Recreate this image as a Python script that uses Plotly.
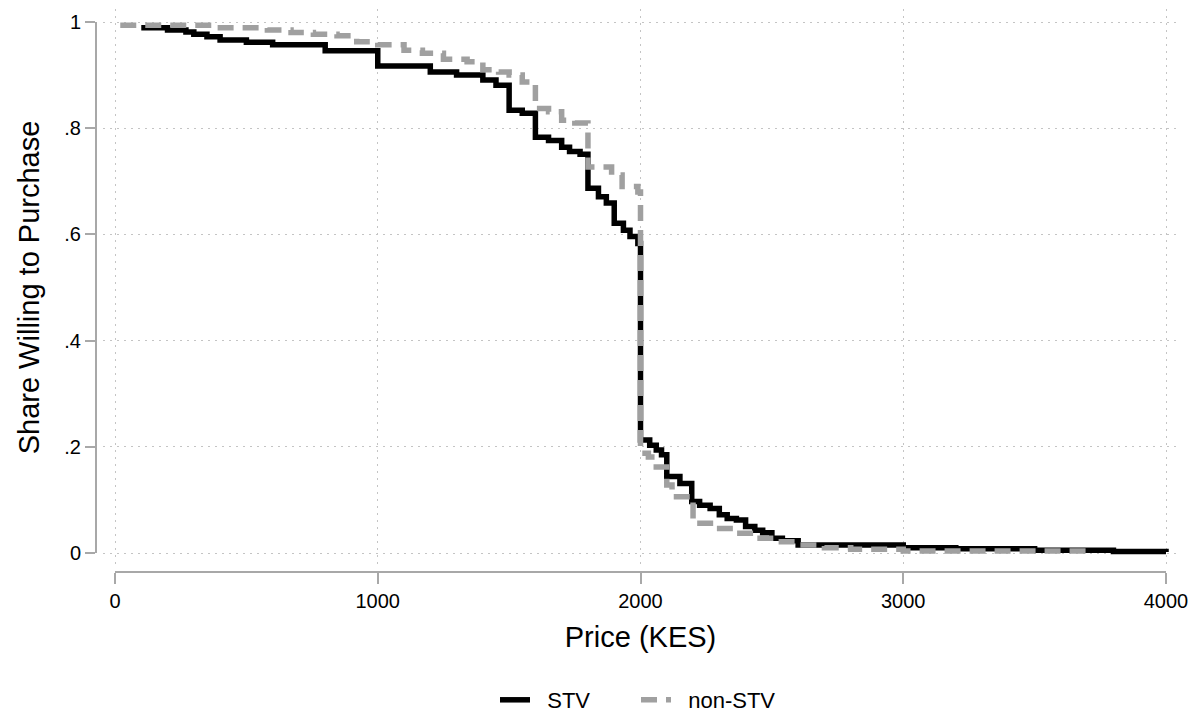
import plotly.graph_objects as go

# Share of respondents willing to purchase at each price (KES), step curves
stv_price = [100, 200, 270, 300, 350, 400, 500, 600, 800, 1000, 1200, 1300, 1400,
             1450, 1500, 1550, 1600, 1650, 1700, 1730, 1770, 1800, 1840, 1870,
             1900, 1935, 1960, 1990, 2000, 2035, 2060, 2080, 2100, 2150, 2195,
             2225, 2265, 2300, 2330, 2365, 2400, 2435, 2465, 2500, 2540, 2600,
             3000, 3200, 3500, 3800, 4000]
stv_share = [0.989, 0.985, 0.981, 0.977, 0.972, 0.966, 0.962, 0.957, 0.946, 0.917,
             0.906, 0.900, 0.891, 0.881, 0.834, 0.828, 0.783, 0.777, 0.764, 0.756,
             0.751, 0.687, 0.671, 0.659, 0.621, 0.608, 0.596, 0.583, 0.213, 0.203,
             0.194, 0.185, 0.144, 0.131, 0.097, 0.090, 0.084, 0.072, 0.065, 0.062,
             0.050, 0.043, 0.038, 0.028, 0.023, 0.015, 0.010, 0.008, 0.005, 0.003,
             0.002]

nonstv_price = [20, 390, 580, 670, 755, 845, 920, 1000, 1100, 1170, 1250, 1340,
                1400, 1460, 1500, 1550, 1600, 1650, 1700, 1750, 1800, 1890, 1930,
                1990, 2000, 2030, 2060, 2100, 2120, 2200, 2280, 2360, 2440, 2520,
                2600, 2700, 2800, 3000, 3700]
nonstv_share = [0.994, 0.989, 0.985, 0.980, 0.977, 0.974, 0.963, 0.957, 0.947,
                0.941, 0.930, 0.925, 0.910, 0.906, 0.900, 0.887, 0.837, 0.831,
                0.815, 0.810, 0.727, 0.712, 0.690, 0.680, 0.188, 0.181, 0.162,
                0.128, 0.106, 0.056, 0.046, 0.037, 0.028, 0.021, 0.015, 0.010,
                0.007, 0.004, 0.002]

x_ticks = [0, 1000, 2000, 3000, 4000]
x_tick_text = ["0", "1000", "2000", "3000", "4000"]
y_ticks = [0, 0.2, 0.4, 0.6, 0.8, 1]
y_tick_text = ["0", ".2", ".4", ".6", ".8", "1"]

W, H = 1203, 721
FONT = "Liberation Sans, Arial, sans-serif"
AXIS_GREY = "#a8a8a8"
GRID_GREY = "#c4c4c4"
NBSP = "\u00a0"

# frame geometry in pixels
ax_left, ax_right = 115, 1166      # x = 0 and x = 4000
ax_top, ax_bottom = 22, 553        # y = 1 and y = 0
plot_left, plot_right = 103, 1179
plot_top, plot_bottom = 9, 565
y_line_px = 96
x_line_px = 572


def fx(p):
    return p / W


def fy(p):
    return 1 - p / H


x_per_px = (x_ticks[-1] - x_ticks[0]) / (ax_right - ax_left)
y_per_px = (y_ticks[-1] - y_ticks[0]) / (ax_bottom - ax_top)
x_range = [x_ticks[0] - (ax_left - plot_left) * x_per_px,
           x_ticks[-1] + (plot_right - ax_right) * x_per_px]
y_range = [y_ticks[0] - (plot_bottom - ax_bottom) * y_per_px,
           y_ticks[-1] + (ax_top - plot_top) * y_per_px]

fig = go.Figure()
fig.add_trace(go.Scatter(
    x=stv_price, y=stv_share, mode="lines", name=NBSP * 2 + "STV",
    line=dict(color="black", width=5.5, shape="hv"),
))
fig.add_trace(go.Scatter(
    x=nonstv_price, y=nonstv_share, mode="lines", name=NBSP * 2 + "non-STV",
    line=dict(color="#a0a0a0", width=5.5, shape="hv", dash="16px,9px"),
))
# carrier for the offset axis lines, ticks and labels
fig.add_trace(go.Scatter(
    x=[x_ticks[0], x_ticks[-1]], y=[y_ticks[0], y_ticks[-1]],
    xaxis="x2", yaxis="y2", mode="markers", marker=dict(opacity=0),
    showlegend=False, hoverinfo="skip",
))

grid_common = dict(showgrid=True, gridcolor=GRID_GREY, gridwidth=1, griddash="2px,5px",
                   showticklabels=False, ticks="", showline=False, zeroline=False,
                   automargin=False, fixedrange=True)
axis_common = dict(showline=True, linecolor=AXIS_GREY, linewidth=2, ticks="outside",
                   tickwidth=2, tickcolor=AXIS_GREY, showgrid=False, zeroline=False,
                   tickfont=dict(family=FONT, size=20, color="black"),
                   automargin=False, fixedrange=True)

fig.update_layout(
    width=W, height=H,
    margin=dict(l=0, r=0, t=0, b=0),
    paper_bgcolor="white", plot_bgcolor="rgba(0,0,0,0)",
    font=dict(family=FONT, color="black"),
    xaxis=dict(domain=[fx(plot_left), fx(plot_right)], range=x_range,
               tickvals=x_ticks, anchor="y", **grid_common),
    yaxis=dict(domain=[fy(plot_bottom), fy(plot_top)], range=y_range,
               tickvals=y_ticks, anchor="x", **grid_common),
    xaxis2=dict(domain=[fx(ax_left), fx(ax_right)], range=[x_ticks[0], x_ticks[-1]],
                anchor="free", position=fy(x_line_px), side="bottom",
                tickvals=x_ticks, ticktext=x_tick_text, ticklen=11, ticklabelstandoff=0,
                title=dict(text="Price (KES)", font=dict(family=FONT, size=29), standoff=15),
                **axis_common),
    yaxis2=dict(domain=[fy(ax_bottom), fy(ax_top)], range=[y_ticks[0], y_ticks[-1]],
                anchor="free", position=fx(y_line_px), side="left",
                tickvals=y_ticks, ticktext=y_tick_text, ticklen=10, tickangle=0,
                title=dict(text="Share Willing to Purchase", font=dict(family=FONT, size=29),
                           standoff=15),
                **axis_common),
    showlegend=True,
    legend=dict(orientation="h", x=fx(495), xanchor="left", y=0, yanchor="bottom",
                font=dict(family=FONT, size=22), entrywidth=96, entrywidthmode="pixels",
                bgcolor="rgba(0,0,0,0)"),
)

fig.write_html("out.html")
